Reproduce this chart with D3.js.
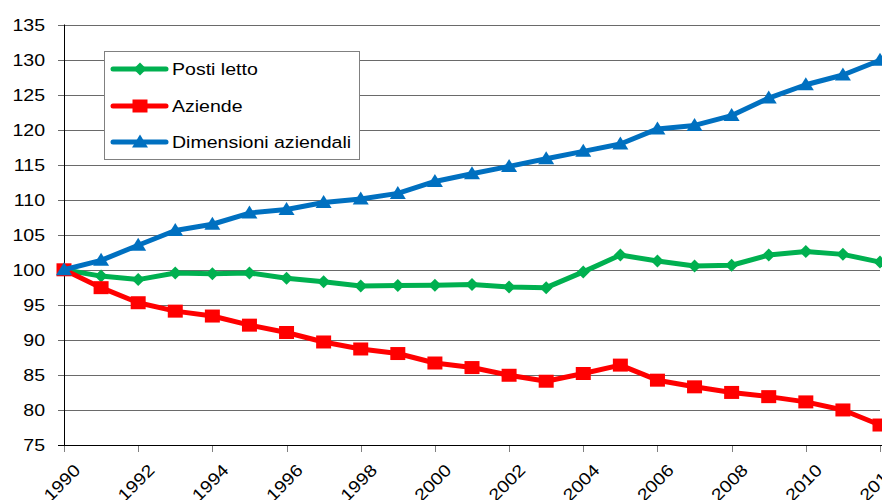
<!DOCTYPE html>
<html><head><meta charset="utf-8">
<script src="https://cdn.jsdelivr.net/npm/d3@7"></script>
<style>body{margin:0;background:#fff}svg{display:block}text{font-family:"Liberation Sans",Arial,sans-serif;fill:#000}</style>
</head><body><svg id="c" width="882" height="500"></svg>
<script>
const years = d3.range(1990, 2013);
const yTicks = [75,80,85,90,95,100,105,110,115,120,125,130,135];
const xTickLabels = [1990,1992,1994,1996,1998,2000,2002,2004,2006,2008,2010,2012];
const seriesNames = ["Posti letto","Aziende","Dimensioni aziendali"];
const postiLetto = [100,99.1,98.6,99.55,99.45,99.55,98.8,98.3,97.7,97.75,97.8,97.9,97.55,97.45,99.7,102.1,101.25,100.55,100.65,102.1,102.6,102.2,101.1];
const aziende = [100,97.45,95.3,94.1,93.4,92.1,91.05,89.7,88.7,88.05,86.7,86.05,84.95,84.1,85.2,86.4,84.25,83.3,82.5,81.9,81.15,80.0,77.85];
const dimensioni = [100,101.35,103.5,105.6,106.5,108.1,108.6,109.6,110.1,110.9,112.6,113.7,114.75,115.85,116.9,117.95,120.1,120.6,122.0,124.5,126.4,127.8,129.9];
const colors = ["#00B050","#FF0000","#0070C0"];
const markers = ["diamond","square","triangle"];

const svg = d3.select("#c");
const L = 64, R = 880, T = 24.5, B = 445;
const x = d3.scaleLinear().domain([1990,2012]).range([L,R]);
const y = d3.scaleLinear().domain([75,135]).range([B,T]);
const SX = 1.15;

// gridlines
svg.append("g").selectAll("line").data(yTicks).join("line")
  .attr("x1", L-6).attr("x2", R).attr("y1", d=>Math.round(y(d))+0.5).attr("y2", d=>Math.round(y(d))+0.5)
  .attr("stroke", d=>d===75?"none":"#6a6a6a").attr("stroke-width",1);
// y labels
svg.append("g").selectAll("text").data(yTicks).join("text")
  .attr("transform", d=>`translate(45,${y(d)+6}) scale(${SX},1)`)
  .attr("text-anchor","end").style("font-size","17px").text(d=>d);
// axes lines
svg.append("line").attr("x1",L+0.5).attr("x2",L+0.5).attr("y1",T).attr("y2",B+0.5).attr("stroke","#000");
svg.append("line").attr("x1",L-6).attr("x2",R+2).attr("y1",B+0.5).attr("y2",B+0.5).attr("stroke","#000");
// x ticks
svg.append("g").selectAll("line").data(xTickLabels).join("line")
  .attr("x1", d=>Math.round(x(d))+0.5).attr("x2", d=>Math.round(x(d))+0.5).attr("y1",B+1).attr("y2",B+7)
  .attr("stroke","#808080");
svg.append("g").selectAll("text").data(xTickLabels).join("text")
  .attr("transform", d=>`translate(${x(d)+9},${B+18}) rotate(-45) scale(${SX},1)`)
  .attr("text-anchor","end").attr("dy","0.7em").style("font-size","17px").text(d=>d);

function markerPath(type){
  if(type==="diamond") return "M0,-6.5L6.5,0L0,6.5L-6.5,0Z";
  if(type==="square") return "M-7.5,-6.5H7.5V6.5H-7.5Z";
  return "M0,-7.5L8,5.5L-8,5.5Z";
}
const allSeries = [postiLetto, aziende, dimensioni];
const line = d3.line().x((d,i)=>x(years[i])).y(d=>y(d));
allSeries.forEach((vals, si)=>{
  const g = svg.append("g");
  g.append("path").datum(vals).attr("d", line).attr("fill","none")
    .attr("stroke", colors[si]).attr("stroke-width",5).attr("stroke-linejoin","round");
  g.selectAll("path.m").data(vals).join("path").attr("class","m")
    .attr("transform",(d,i)=>`translate(${x(years[i])},${y(d)})`)
    .attr("d", markerPath(markers[si])).attr("fill", colors[si]);
});

// legend
const lg = svg.append("g");
lg.append("rect").attr("x",104.5).attr("y",51.5).attr("width",255).attr("height",108)
  .attr("fill","#fff").attr("stroke","#808080");
const legY = [69,106,142];
seriesNames.forEach((n,i)=>{
  lg.append("line").attr("x1",113).attr("x2",166).attr("y1",legY[i]).attr("y2",legY[i])
    .attr("stroke",colors[i]).attr("stroke-width",5).attr("stroke-linecap","round");
  lg.append("path").attr("transform",`translate(140,${legY[i]})`).attr("d",markerPath(markers[i])).attr("fill",colors[i]);
  lg.append("text").attr("transform",`translate(172,${legY[i]+6}) scale(${SX},1)`)
    .style("font-size","17px").text(n);
});
</script></body></html>
